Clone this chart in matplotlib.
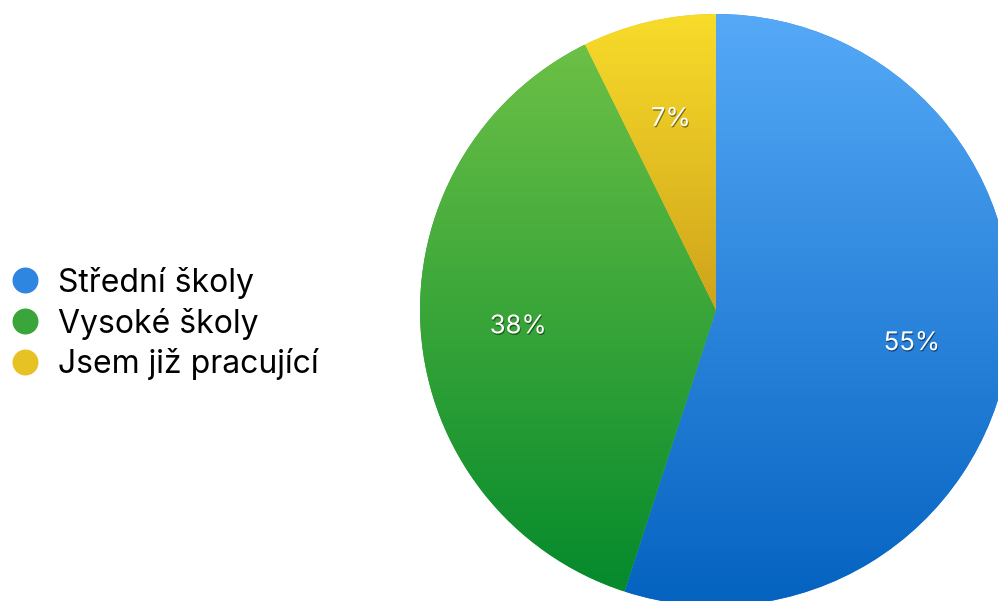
import matplotlib
matplotlib.use("Agg")
import matplotlib.pyplot as plt
import matplotlib.patheffects as pe
from matplotlib.colors import LinearSegmentedColormap
from matplotlib.lines import Line2D
import numpy as np

categories = ["Střední školy", "Vysoké školy", "Jsem již pracující"]
values = [55.0, 37.7, 7.3]
top_colors = ["#55A9F7", "#6CC046", "#F8DC2A"]
bottom_colors = ["#0462C0", "#058A2C", "#CFA31B"]
mid_colors = ["#2E86E0", "#3AA53A", "#E6C224"]

W, H = 998, 601
fig = plt.figure(figsize=(W / 100, H / 100), dpi=100)
ax = fig.add_axes([0, 0, 1, 1])

cx, cy, r = 716, H - 310, 296
wedges, texts, autotexts = ax.pie(
    values, startangle=90, counterclock=False, center=(cx, cy), radius=r,
    colors=mid_colors, autopct="%.0f%%", pctdistance=0.67, frame=True,
    wedgeprops=dict(linewidth=0),
    textprops=dict(color="white", fontsize=18.5, fontweight="normal",
                   family=["Inter", "Liberation Sans", "DejaVu Sans"]),
)

grad = np.linspace(0, 1, 256).reshape(-1, 1)
for w, tc, bc in zip(wedges, top_colors, bottom_colors):
    ext = w.get_path().get_extents()
    cmap = LinearSegmentedColormap.from_list("g", [bc, tc])
    im = ax.imshow(grad, extent=[ext.x0, ext.x1, ext.y0, ext.y1], origin="lower",
                   cmap=cmap, aspect="auto", zorder=2, interpolation="bilinear")
    im.set_clip_path(w)

for t in autotexts:
    t.set_zorder(5)
    t.set_va("center_baseline")
    t.set_path_effects([pe.SimplePatchShadow(offset=(0.6, -1.0), shadow_rgbFace="black", alpha=0.45),
                        pe.Normal()])

ax.set_xlim(0, W)
ax.set_ylim(0, H)
ax.set_aspect("equal")
ax.axis("off")

handles = [Line2D([], [], linestyle="none", marker="o", markersize=18.7,
                  markerfacecolor=c, markeredgewidth=0) for c in mid_colors]
fig.legend(handles, categories, loc="center left",
           bbox_to_anchor=(11 / W, 1 - 323.5 / H), bbox_transform=fig.transFigure,
           frameon=False, borderpad=0, borderaxespad=0, handlelength=0.86,
           handletextpad=0.62, labelspacing=0.28,
           prop=dict(family=["Inter", "Liberation Sans", "DejaVu Sans"], size=23))

fig.savefig("out.png", dpi=100)
